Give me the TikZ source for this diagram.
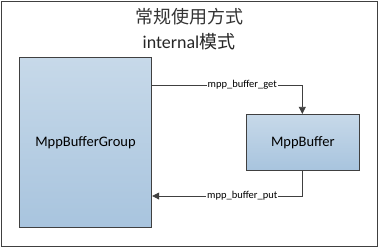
\documentclass[tikz,border=0pt]{standalone}
\usepackage{fontspec}
\setmainfont{Carlito}
\newfontfamily\cjk{Noto Sans CJK SC}
\usetikzlibrary{arrows.meta}
\definecolor{edge}{HTML}{404040}
\definecolor{topc}{HTML}{C7D9E9}
\definecolor{botc}{HTML}{A8C4DE}
\begin{document}
\begin{tikzpicture}[x=1pt,y=-1pt,
  boxstyle/.style={draw=edge,line width=0.9pt,top color=topc,bottom color=botc,inner sep=0pt},
  conn/.style={draw=edge,line width=0.8pt,-{Triangle[length=7pt,width=7pt]}},
  lbl/.style={fill=white,inner sep=1pt,font=\fontsize{10.5}{12}\selectfont}]
\useasboundingbox (0,0) rectangle (379,247);
\draw[edge,line width=0.9pt,fill=white] (1,1) rectangle (377.5,246);
\node[font=\fontsize{18}{20}\selectfont\cjk,text=black!80] (t1) at (189,17) {常规使用方式};
\node[font=\fontsize{18}{20}\selectfont,text=black!85] (t2) at (189,42) {internal{\cjk 模式}};
\node[boxstyle,minimum width=132.5pt,minimum height=170pt,font=\fontsize{14.5}{18}\selectfont] (grp) at (85.5,142.3) {MppBufferGroup};
\node[boxstyle,minimum width=112.3pt,minimum height=55.7pt,font=\fontsize{14.5}{18}\selectfont] (buf) at (302.8,142.2) {MppBuffer};
\coordinate (c1) at (302.3,85);
\coordinate (c2) at (302.3,196);
\draw[conn] (grp.east |- c1) -- node[lbl,pos=0.6] {mpp\_buffer\_get} (c1) -- (buf.north -| c1);
\draw[conn] (buf.south -| c2) -- (c2) -- node[lbl,pos=0.4] {mpp\_buffer\_put} (grp.east |- c2);
\end{tikzpicture}
\end{document}
